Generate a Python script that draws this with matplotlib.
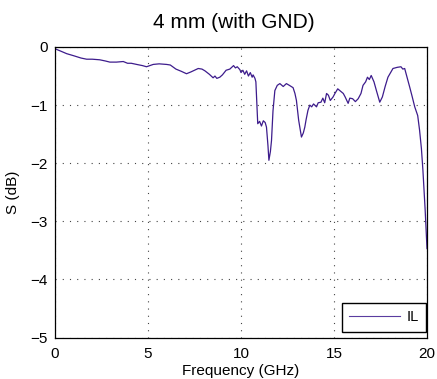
import matplotlib

matplotlib.use("Agg")

import matplotlib.pyplot as plt

# insertion loss trace
freq_ghz = [
    0.0, 0.3, 0.63, 1.0, 1.4, 1.7, 2.0, 2.4, 2.7, 2.95, 3.3, 3.67, 3.9, 4.1, 4.39,
    4.7, 4.92, 5.1, 5.28, 5.6, 6.0, 6.2, 6.5, 6.8, 7.07, 7.3, 7.5, 7.7, 7.9,
    8.06, 8.3, 8.5, 8.6, 8.7, 8.86, 9.0, 9.2, 9.4, 9.5, 9.6, 9.7, 9.8, 9.94,
    10.0, 10.1, 10.2, 10.3, 10.4, 10.5, 10.6, 10.65, 10.75, 10.8, 10.9, 11.0,
    11.1, 11.2, 11.3, 11.37, 11.45, 11.5, 11.58, 11.64, 11.72, 11.82, 11.95,
    12.09, 12.27, 12.44, 12.6, 12.8, 12.9, 12.98, 13.1, 13.25, 13.35, 13.43,
    13.5, 13.6, 13.7, 13.8, 13.9, 14.06, 14.15, 14.3, 14.4, 14.5, 14.6, 14.7,
    14.8, 14.95, 15.05, 15.2, 15.35, 15.5, 15.6, 15.76, 15.85, 16.0, 16.15,
    16.3, 16.45, 16.56, 16.7, 16.8, 16.9, 17.0, 17.15, 17.28, 17.46, 17.6,
    17.75, 17.9, 18.17, 18.4, 18.6, 18.7, 18.8, 19.07, 19.2, 19.34, 19.5, 19.6,
    19.7, 19.78, 19.9, 20.0,
]
il_db = [
    -0.03, -0.07, -0.115, -0.15, -0.19, -0.21, -0.21, -0.22, -0.24, -0.26, -0.26,
    -0.25, -0.28, -0.28, -0.30, -0.32, -0.34, -0.32, -0.30, -0.29, -0.30, -0.31,
    -0.38, -0.42, -0.46, -0.43, -0.40, -0.37, -0.38, -0.41, -0.47, -0.53, -0.50,
    -0.54, -0.52, -0.48, -0.40, -0.38, -0.35, -0.32, -0.36, -0.34, -0.39, -0.44,
    -0.40, -0.47, -0.41, -0.50, -0.44, -0.52, -0.48, -0.54, -0.60, -1.32, -1.28,
    -1.36, -1.27, -1.30, -1.38, -1.70, -1.95, -1.80, -1.61, -1.10, -0.75, -0.66,
    -0.63, -0.68, -0.63, -0.66, -0.70, -0.80, -0.92, -1.26, -1.55, -1.48, -1.38,
    -1.25, -1.09, -1.00, -1.03, -0.98, -1.03, -0.96, -0.95, -0.88, -0.96, -0.80,
    -0.83, -0.92, -0.86, -0.80, -0.72, -0.76, -0.80, -0.86, -0.97, -0.88, -0.89,
    -0.94, -0.89, -0.80, -0.66, -0.60, -0.52, -0.56, -0.49, -0.60, -0.75, -0.95,
    -0.86, -0.68, -0.52, -0.37, -0.35, -0.34, -0.38, -0.37, -0.69, -0.85, -1.03,
    -1.18, -1.43, -1.75, -2.12, -2.80, -3.47,
]

plt.rcParams["font.family"] = ["Liberation Sans", "DejaVu Sans"]

fig = plt.figure(figsize=(4.37, 3.79), dpi=100)
ax = fig.add_axes([55 / 437, 1 - 337.5 / 379, 372 / 437, 290.5 / 379])

ax.plot(freq_ghz, il_db, color="#3d1c8c", linewidth=0.9, label="IL")

ax.set_xlim(0, 20)
ax.set_ylim(-5, 0)
ax.set_xticks([0, 5, 10, 15, 20])
ax.set_yticks([-5, -4, -3, -2, -1, 0])
ax.set_yticklabels(["\u22125", "\u22124", "\u22123", "\u22122", "\u22121", "0"])
ax.tick_params(direction="in", top=True, right=True, labelsize=11, length=0, pad=5)
ax.tick_params(axis="x", pad=7)
ax.grid(True, color="#444444", linestyle=(0, (1, 5.5)), linewidth=0.8)
for spine in ax.spines.values():
    spine.set_linewidth(0.9)

ax.set_xlabel("Frequency (GHz)", fontsize=11, labelpad=2)
ax.set_ylabel("S (dB)", fontsize=11, labelpad=8)
fig.text(234 / 437, 1 - 22 / 379, "4 mm (with GND)", fontsize=15,
         ha="center", va="center")

leg = ax.legend(loc="lower right", bbox_to_anchor=(0.9965, 0.02), fontsize=10.5,
                fancybox=False, framealpha=1, edgecolor="black", borderaxespad=0,
                handlelength=3.5, handletextpad=0.4, borderpad=0.5)
leg.get_frame().set_linewidth(1.0)
leg.get_lines()[0].set_linewidth(0.8)
leg.get_lines()[0].set_color("#5a3ca0")

fig.savefig("out.png", dpi=100)
